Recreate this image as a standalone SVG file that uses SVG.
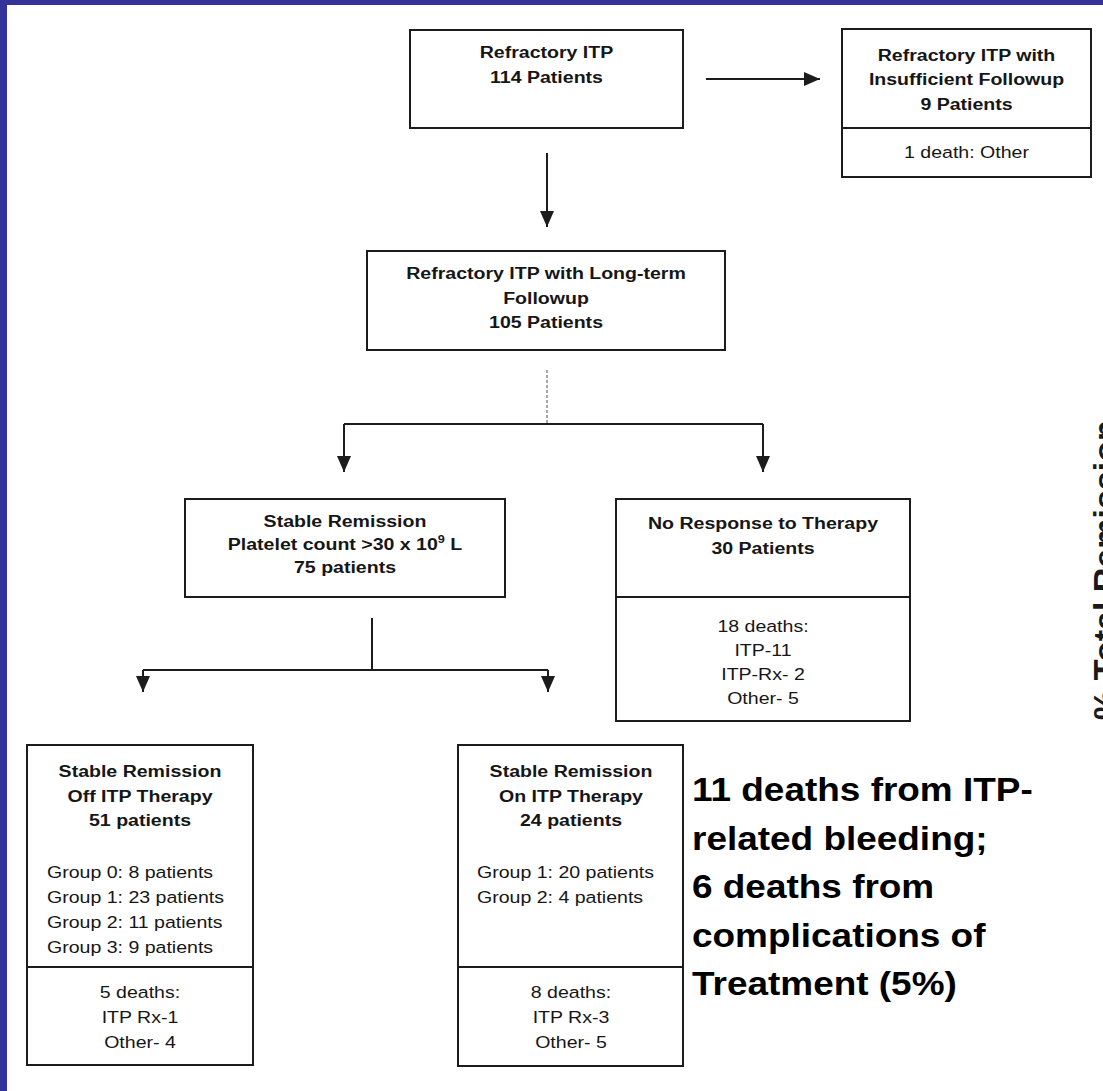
<svg xmlns="http://www.w3.org/2000/svg" width="1103" height="1091" viewBox="0 0 1103 1091">
  <defs>
    <style>
      .box { fill: #ffffff; stroke: #1c1c1c; stroke-width: 2; }
      .div { stroke: #1c1c1c; stroke-width: 2; }
      .conn { fill: none; stroke: #1c1c1c; stroke-width: 2; }
      .faint { fill: none; stroke: #7a7a7a; stroke-width: 1.3; stroke-dasharray: 3 2; }
      .b { font-family: "Liberation Sans", Arial, sans-serif; font-weight: bold; font-size: 17px; fill: #161616; text-anchor: middle; }
      .r { font-family: "Liberation Sans", Arial, sans-serif; font-size: 17px; fill: #161616; text-anchor: middle; }
      .l { text-anchor: start; }
      .big { font-family: "Liberation Sans", Arial, sans-serif; font-weight: bold; font-size: 33px; fill: #000000; }
      .side { font-family: "Liberation Sans", Arial, sans-serif; font-weight: bold; font-size: 34px; fill: #1a1a1a; }
    </style>
    <marker id="arrow" viewBox="0 0 16 14" refX="16" refY="7" markerWidth="16" markerHeight="14" markerUnits="userSpaceOnUse" orient="auto">
      <path d="M0,0 L16,7 L0,14 z" fill="#1c1c1c"/>
    </marker>
  </defs>

  <!-- page background and frame -->
  <rect x="0" y="0" width="1103" height="1091" fill="#ffffff"/>
  <rect x="0" y="0" width="1103" height="5" fill="#333399"/>
  <rect x="0" y="0" width="7" height="1091" fill="#333399"/>

  <!-- connectors -->
  <g id="connectors">
    <line class="conn" x1="706" y1="79" x2="820" y2="79" marker-end="url(#arrow)"/>
    <line class="conn" x1="547" y1="153" x2="547" y2="227" marker-end="url(#arrow)"/>
    <line class="faint" x1="547" y1="370" x2="547" y2="424"/>
    <line class="conn" x1="344" y1="424" x2="763" y2="424"/>
    <line class="conn" x1="344" y1="424" x2="344" y2="472" marker-end="url(#arrow)"/>
    <line class="conn" x1="763" y1="424" x2="763" y2="472" marker-end="url(#arrow)"/>
    <line class="conn" x1="372" y1="618" x2="372" y2="670"/>
    <line class="conn" x1="143" y1="670" x2="548" y2="670"/>
    <line class="conn" x1="143" y1="670" x2="143" y2="692" marker-end="url(#arrow)"/>
    <line class="conn" x1="548" y1="670" x2="548" y2="692" marker-end="url(#arrow)"/>
  </g>

  <!-- Refractory ITP -->
  <g id="node-refractory">
    <rect class="box" x="410" y="30" width="273" height="98"/>
    <g transform="translate(546.5 0) scale(1.15 1)">
      <text class="b" x="0" y="58">Refractory ITP</text>
      <text class="b" x="0" y="83">114 Patients</text>
    </g>
  </g>

  <!-- Insufficient followup -->
  <g id="node-insufficient">
    <rect class="box" x="842" y="29" width="249" height="148"/>
    <line class="div" x1="842" y1="128" x2="1091" y2="128"/>
    <g transform="translate(966.5 0) scale(1.15 1)">
      <text class="b" x="0" y="61">Refractory ITP with</text>
      <text class="b" x="0" y="85">Insufficient Followup</text>
      <text class="b" x="0" y="110">9 Patients</text>
      <text class="r" x="0" y="158">1 death: Other</text>
    </g>
  </g>

  <!-- Long-term followup -->
  <g id="node-longterm">
    <rect class="box" x="367" y="251" width="358" height="99"/>
    <g transform="translate(546 0) scale(1.15 1)">
      <text class="b" x="0" y="279">Refractory ITP with Long-term</text>
      <text class="b" x="0" y="304">Followup</text>
      <text class="b" x="0" y="328">105 Patients</text>
    </g>
  </g>

  <!-- Stable remission -->
  <g id="node-stable">
    <rect class="box" x="185" y="499" width="320" height="98"/>
    <g transform="translate(345 0) scale(1.15 1)">
      <text class="b" x="0" y="527">Stable Remission</text>
      <text class="b" x="0" y="550">Platelet count &gt;30 x 10<tspan font-size="11" dy="-7">9</tspan><tspan dy="7"> L</tspan></text>
      <text class="b" x="0" y="573">75 patients</text>
    </g>
  </g>

  <!-- No response -->
  <g id="node-noresponse">
    <rect class="box" x="616" y="499" width="294" height="222"/>
    <line class="div" x1="616" y1="597" x2="910" y2="597"/>
    <g transform="translate(763 0) scale(1.15 1)">
      <text class="b" x="0" y="529">No Response to Therapy</text>
      <text class="b" x="0" y="554">30 Patients</text>
      <text class="r" x="0" y="632">18 deaths:</text>
      <text class="r" x="0" y="656">ITP-11</text>
      <text class="r" x="0" y="680">ITP-Rx- 2</text>
      <text class="r" x="0" y="704">Other- 5</text>
    </g>
  </g>

  <!-- Off therapy -->
  <g id="node-off">
    <rect class="box" x="27" y="745" width="226" height="320"/>
    <line class="div" x1="27" y1="967" x2="253" y2="967"/>
    <g transform="translate(140 0) scale(1.15 1)">
      <text class="b" x="0" y="777">Stable Remission</text>
      <text class="b" x="0" y="802">Off ITP Therapy</text>
      <text class="b" x="0" y="826">51 patients</text>
      <text class="r" x="0" y="998">5 deaths:</text>
      <text class="r" x="0" y="1023">ITP Rx-1</text>
      <text class="r" x="0" y="1048">Other- 4</text>
    </g>
    <g transform="translate(47 0) scale(1.15 1)">
      <text class="r l" x="0" y="878">Group 0: 8 patients</text>
      <text class="r l" x="0" y="903">Group 1: 23 patients</text>
      <text class="r l" x="0" y="928">Group 2: 11 patients</text>
      <text class="r l" x="0" y="953">Group 3: 9 patients</text>
    </g>
  </g>

  <!-- On therapy -->
  <g id="node-on">
    <rect class="box" x="458" y="745" width="225" height="321"/>
    <line class="div" x1="458" y1="967" x2="683" y2="967"/>
    <g transform="translate(571 0) scale(1.15 1)">
      <text class="b" x="0" y="777">Stable Remission</text>
      <text class="b" x="0" y="802">On ITP Therapy</text>
      <text class="b" x="0" y="826">24 patients</text>
      <text class="r" x="0" y="998">8 deaths:</text>
      <text class="r" x="0" y="1023">ITP Rx-3</text>
      <text class="r" x="0" y="1048">Other- 5</text>
    </g>
    <g transform="translate(477 0) scale(1.15 1)">
      <text class="r l" x="0" y="878">Group 1: 20 patients</text>
      <text class="r l" x="0" y="903">Group 2: 4 patients</text>
    </g>
  </g>

  <!-- summary note -->
  <g id="note" transform="translate(692 0) scale(1.12 1)">
    <text class="big" x="0" y="801">11 deaths from ITP-</text>
    <text class="big" x="0" y="850">related bleeding;</text>
    <text class="big" x="0" y="898">6 deaths from</text>
    <text class="big" x="0" y="947">complications of</text>
    <text class="big" x="0" y="995">Treatment (5%)</text>
  </g>

  <!-- axis title running off the right edge -->
  <text class="side" transform="translate(1117 720) rotate(-90)">% Total Remission</text>
</svg>
